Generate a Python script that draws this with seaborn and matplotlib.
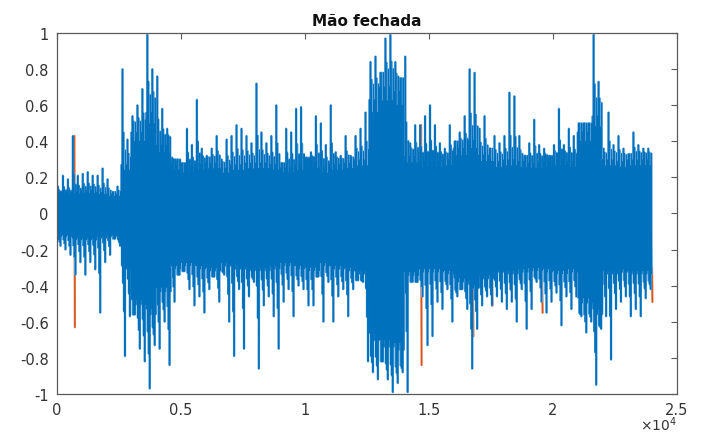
import numpy as np
import pandas as pd
import matplotlib
matplotlib.use("Agg")
import matplotlib.pyplot as plt
import seaborn as sns

# ---- data ----
# outer envelope (spike extremes) per 200-sample bin
bin_size = 200
hi = [0.15, 0.21, 0.19, 0.43, 0.21, 0.22, 0.23, 0.21, 0.21, 0.25,
      0.19, 0.10, 0.15, 0.80, 0.41, 0.54, 0.60, 0.69, 0.99, 0.80,
      0.76, 0.58, 0.47, 0.31, 0.28, 0.28, 0.47, 0.38, 0.63, 0.36,
      0.32, 0.36, 0.43, 0.30, 0.41, 0.43, 0.49, 0.47, 0.43, 0.39,
      0.72, 0.45, 0.39, 0.43, 0.60, 0.26, 0.47, 0.45, 0.58, 0.59,
      0.28, 0.34, 0.54, 0.50, 0.38, 0.60, 0.34, 0.32, 0.43, 0.32,
      0.43, 0.47, 0.56, 0.84, 0.87, 0.76, 0.97, 0.99, 0.84, 0.65,
      0.87, 0.39, 0.49, 0.49, 0.54, 0.60, 0.49, 0.39, 0.36, 0.49,
      0.36, 0.45, 0.54, 0.80, 0.78, 0.47, 0.54, 0.32, 0.43, 0.39,
      0.43, 0.67, 0.65, 0.43, 0.32, 0.39, 0.52, 0.38, 0.36, 0.32,
      0.38, 0.58, 0.38, 0.47, 0.43, 0.43, 0.39, 0.47, 0.99, 0.73,
      0.36, 0.56, 0.38, 0.43, 0.36, 0.32, 0.45, 0.38, 0.36, 0.36]
lo = [-0.18, -0.20, -0.23, -0.34, -0.27, -0.34, -0.27, -0.31, -0.55, -0.27,
      -0.23, -0.12, -0.18, -0.79, -0.57, -0.55, -0.75, -0.82, -0.97, -0.73,
      -0.75, -0.60, -0.84, -0.49, -0.31, -0.31, -0.42, -0.51, -0.46, -0.55,
      -0.42, -0.34, -0.49, -0.34, -0.60, -0.79, -0.42, -0.75, -0.46, -0.38,
      -0.86, -0.51, -0.46, -0.57, -0.75, -0.49, -0.42, -0.57, -0.40, -0.42,
      -0.51, -0.51, -0.31, -0.60, -0.38, -0.60, -0.46, -0.42, -0.57, -0.42,
      -0.34, -0.38, -0.82, -0.88, -0.92, -0.82, -0.92, -0.99, -0.94, -0.88,
      -0.99, -0.38, -0.34, -0.46, -0.73, -0.68, -0.49, -0.53, -0.42, -0.60,
      -0.46, -0.42, -0.53, -0.86, -0.64, -0.51, -0.46, -0.51, -0.46, -0.49,
      -0.53, -0.49, -0.60, -0.42, -0.64, -0.53, -0.38, -0.49, -0.55, -0.49,
      -0.44, -0.62, -0.46, -0.53, -0.46, -0.57, -0.66, -0.60, -0.95, -0.64,
      -0.57, -0.81, -0.53, -0.49, -0.46, -0.57, -0.53, -0.57, -0.47, -0.42]
# dense core band per 500 samples
core_size = 500
core_top = [0.12, 0.13, 0.14, 0.13, 0.12, 0.30, 0.50, 0.62, 0.42, 0.30,
            0.28, 0.30, 0.31, 0.28, 0.30, 0.31, 0.31, 0.30, 0.28, 0.30,
            0.31, 0.28, 0.30, 0.31, 0.33, 0.70, 0.78, 0.75, 0.35, 0.32,
            0.32, 0.33, 0.40, 0.45, 0.36, 0.32, 0.33, 0.32, 0.31, 0.32,
            0.33, 0.32, 0.50, 0.60, 0.33, 0.32, 0.33, 0.33]
core_bot = [-0.14, -0.16, -0.16, -0.15, -0.14, -0.34, -0.56, -0.62, -0.48, -0.34,
            -0.32, -0.34, -0.35, -0.32, -0.34, -0.35, -0.35, -0.34, -0.32, -0.34,
            -0.35, -0.32, -0.34, -0.35, -0.37, -0.78, -0.82, -0.84, -0.38, -0.36,
            -0.36, -0.37, -0.42, -0.46, -0.40, -0.36, -0.37, -0.36, -0.35, -0.36,
            -0.37, -0.36, -0.55, -0.62, -0.37, -0.36, -0.37, -0.37]

# second channel (orange): only its visible spikes
orange_pos = [700, 14680, 15900, 16770, 17540, 18270, 19560, 23990]
orange_top = [0.43, 0.49, -0.20, -0.40, -0.30, -0.25, -0.35, -0.30]
orange_bot = [-0.63, -0.84, -0.35, -0.68, -0.51, -0.42, -0.55, -0.49]

title = "Mão fechada"
xticks = [0, 5000, 10000, 15000, 20000, 25000]
xtick_labels = ["0", "0.5", "1", "1.5", "2", "2.5"]
yticks = [-1, -0.8, -0.6, -0.4, -0.2, 0, 0.2, 0.4, 0.6, 0.8, 1]
ytick_labels = ["-1", "-0.8", "-0.6", "-0.4", "-0.2", "0", "0.2", "0.4", "0.6", "0.8", "1"]

# ---- assemble the blue trace: dense core strokes plus the read spikes ----
nv = 10
step = bin_size // nv
xs, ys = [], []
for i in range(len(hi)):
    j = (i * bin_size) // core_size
    ct, cb = core_top[j], core_bot[j]
    h, l = max(hi[i], ct), min(lo[i], cb)
    pattern = [0.9 * ct, 0.85 * cb, h, cb + 0.1 * (l - cb),
               ct + 0.3 * (h - ct), cb + 0.45 * (l - cb),
               0.8 * ct, l, ct + 0.1 * (h - ct), 0.9 * cb]
    for k, v in enumerate(pattern):
        xs.append(i * bin_size + k * step)
        ys.append(v)
blue = pd.DataFrame({"x": xs, "y": ys})

ox, oy, ou = [], [], []
for j, p in enumerate(orange_pos):
    ox += [p, p + 20]
    oy += [orange_top[j], orange_bot[j]]
    ou += [j, j]
orange = pd.DataFrame({"x": ox, "y": oy, "u": ou})

sns.set_style("white")
plt.rcParams["font.family"] = ["DejaVu Sans"]
plt.rcParams["axes.unicode_minus"] = False

fig = plt.figure(figsize=(7.05, 4.39), dpi=100)
ax = fig.add_axes([0.0809, 0.1002, 0.8794, 0.8224])

sns.lineplot(data=orange, x="x", y="y", units="u", estimator=None, sort=False,
             color="#E07A50", linewidth=1.6, ax=ax)
sns.lineplot(data=orange, x="x", y="y", units="u", estimator=None, sort=False,
             color="#D95319", linewidth=0.8, ax=ax)
sns.lineplot(data=blue, x="x", y="y", estimator=None, sort=False,
             color="#6aa9dc", linewidth=1.6, ax=ax)
sns.lineplot(data=blue, x="x", y="y", estimator=None, sort=False,
             color="#0072BD", linewidth=0.7, ax=ax)

ax.set_xlim(0, 25000)
ax.set_ylim(-1, 1)
ax.set_xticks(xticks)
ax.set_xticklabels(xtick_labels)
ax.set_yticks(yticks)
ax.set_yticklabels(ytick_labels)
ax.set_xlabel("")
ax.set_ylabel("")
edge = "#5a5a5a"
for s in ax.spines.values():
    s.set_visible(True)
    s.set_color(edge)
    s.set_linewidth(0.9)
ax.tick_params(direction="in", top=True, right=True, length=4, width=0.8,
               color=edge, labelsize=10.5, labelcolor="#333333", pad=6)
ax.set_title(title, fontsize=11, fontweight="bold", color="#111111", pad=6)
ax.text(1.0, -0.083, r"$\times 10^{4}$", transform=ax.transAxes, ha="right",
        va="center", fontsize=10, color="#333333")

fig.savefig("out.png", dpi=100)
